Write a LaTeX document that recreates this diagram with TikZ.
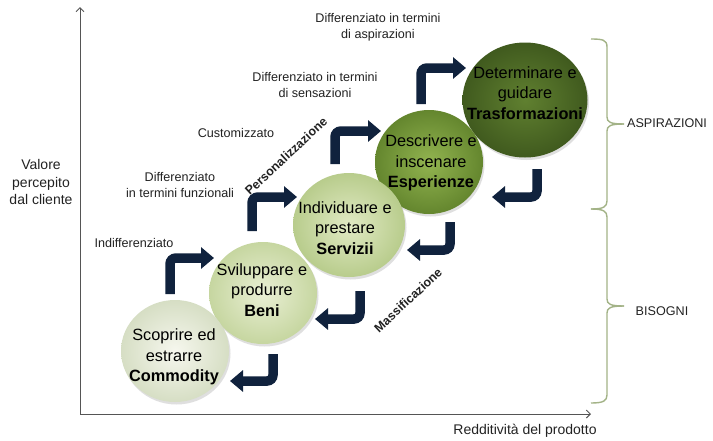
\documentclass[tikz,border=0pt]{standalone}
\usepackage{fontspec}
\setmainfont{Liberation Sans}
\usetikzlibrary{arrows.meta,shapes.geometric,shadows}
\definecolor{navy}{HTML}{10223D}
\definecolor{bracec}{HTML}{A3B387}
\definecolor{axisc}{HTML}{555555}
\definecolor{labc}{HTML}{222222}
\begin{document}
\begin{tikzpicture}[x=1pt,y=-1pt,
  ball/.style={ellipse, inner sep=0pt, shading=radial,
    drop shadow={opacity=0.25, shadow xshift=1.5pt, shadow yshift=-2.5pt}},
  ctext/.style={align=center, inner sep=0pt, text=black,
    font=\fontsize{16.3}{20.5}\selectfont},
  lab/.style={inner sep=0pt, text=labc, font=\fontsize{12.6}{16}\selectfont},
  rlab/.style={inner sep=0pt, text=labc, font=\fontsize{12.4}{15}\selectfont\bfseries},
  axl/.style={inner sep=0pt, text=labc, font=\fontsize{14}{17.5}\selectfont},
  bendarrow/.style={draw=navy, line width=9.5pt, rounded corners=6pt,
    -{Triangle[length=13pt,width=21pt]}},
  bracel/.style={draw=bracec, line width=1.4pt},
  axisl/.style={draw=axisc, line width=1pt, -{Straight Barb[length=4pt,width=8pt]}}
]
\useasboundingbox (0,0) rectangle (713,440);
\fill[white] (0,0) rectangle (713,440);

% axes
\coordinate (O) at (80,414);
\coordinate (Ytop) at (80,7);
\coordinate (Xend) at (591,414);
\draw[axisl] (O) -- (Ytop);
\draw[axisl] (O) -- (Xend);
\node[axl, align=center] (ylab) at (41,182) {Valore\\percepito\\dal cliente};
\node[axl] (xlab) at (525,431) {Redditività del prodotto};

% circles (back to front)
\node[ball, minimum width=125pt, minimum height=115pt,
  inner color={rgb,255:red,96;green,128;blue,48}, outer color={rgb,255:red,64;green,90;blue,30}] (trasf) at (525,100) {};
\node[ball, minimum width=108pt, minimum height=104pt,
  inner color={rgb,255:red,146;green,180;blue,80}, outer color={rgb,255:red,100;green,134;blue,46}] (esper) at (429,162) {};
\node[ball, minimum width=112pt, minimum height=104pt,
  inner color={rgb,255:red,225;green,234;blue,196}, outer color={rgb,255:red,184;green,204;blue,140}] (serv) at (349,225) {};
\node[ball, minimum width=108pt, minimum height=102pt,
  inner color={rgb,255:red,233;green,239;blue,212}, outer color={rgb,255:red,198;green,214;blue,160}] (beni) at (263,293) {};
\node[ball, minimum width=108pt, minimum height=102pt,
  inner color={rgb,255:red,246;green,247;blue,238}, outer color={rgb,255:red,214;green,222;blue,196}] (comm) at (175,351) {};

% circle texts
\node[ctext] (ttrasf) at (525,93) {Determinare e\\guidare\\\textbf{Trasformazioni}};
\node[ctext] (tesper) at (431,163) {Descrivere e\\inscenare\\\textbf{Esperienze}};
\node[ctext] (tserv) at (345,228) {Individuare e\\prestare\\\textbf{Servizii}};
\node[ctext] (tbeni) at (262,290) {Sviluppare e\\produrre\\\textbf{Beni}};
\node[ctext] (tcomm) at (174,357) {Scoprire ed\\estrarre\\\textbf{Commodity}};

% up-right arrows
\coordinate (a1s) at (170,294); \coordinate (a1c) at (170,258); \coordinate (a1e) at (214,258);
\coordinate (a2s) at (252,231); \coordinate (a2c) at (252,197); \coordinate (a2e) at (297,197);
\coordinate (a3s) at (335,164); \coordinate (a3c) at (335,131); \coordinate (a3e) at (381,131);
\coordinate (a4s) at (421,104); \coordinate (a4c) at (421,68); \coordinate (a4e) at (466,68);
\draw[bendarrow] (a1s) -- (a1c) -- (a1e);
\draw[bendarrow] (a2s) -- (a2c) -- (a2e);
\draw[bendarrow] (a3s) -- (a3c) -- (a3e);
\draw[bendarrow] (a4s) -- (a4c) -- (a4e);

% down-left arrows
\coordinate (b1s) at (537,169); \coordinate (b1c) at (537,197); \coordinate (b1e) at (492,197);
\coordinate (b2s) at (450,222); \coordinate (b2c) at (450,250); \coordinate (b2e) at (407,250);
\coordinate (b3s) at (360,291); \coordinate (b3c) at (360,319); \coordinate (b3e) at (315,319);
\coordinate (b4s) at (273,354); \coordinate (b4c) at (273,381); \coordinate (b4e) at (230,381);
\draw[bendarrow] (b1s) -- (b1c) -- (b1e);
\draw[bendarrow] (b2s) -- (b2c) -- (b2e);
\draw[bendarrow] (b3s) -- (b3c) -- (b3e);
\draw[bendarrow] (b4s) -- (b4c) -- (b4e);

% labels
\node[lab] (l1) at (134,243) {Indifferenziato};
\node[lab, align=center] (l2) at (180,185) {Differenziato\\in termini funzionali};
\node[lab] (l3) at (236,133) {Customizzato};
\node[lab, align=center] (l4) at (315,85) {Differenziato in termini\\di sensazioni};
\node[lab, align=center] (l5) at (378,27) {Differenziato in termini\\di aspirazioni};
\node[rlab, rotate=43] (pers) at (286,156) {Personalizzazione};
\node[rlab, rotate=43] (mass) at (408,300) {Massificazione};

% braces
\draw[bracel] (591,39) .. controls (603,39) and (607,40) .. (607,47) -- (607,117)
  .. controls (607,122) and (610,124) .. (624,124);
\draw[bracel] (624,124) .. controls (610,124) and (607,126) .. (607,131) -- (607,201)
  .. controls (607,207) and (603,209) .. (591,209);
\draw[bracel] (591,209) .. controls (603,209) and (607,211) .. (607,217) -- (607,299)
  .. controls (607,304) and (610,306) .. (624,306);
\draw[bracel] (624,306) .. controls (610,306) and (607,308) .. (607,313) -- (607,395)
  .. controls (607,401) and (603,403) .. (591,403);
\node[lab] (asp) at (667,123) {ASPIRAZIONI};
\node[lab] (bis) at (662,311) {BISOGNI};
\end{tikzpicture}
\end{document}
